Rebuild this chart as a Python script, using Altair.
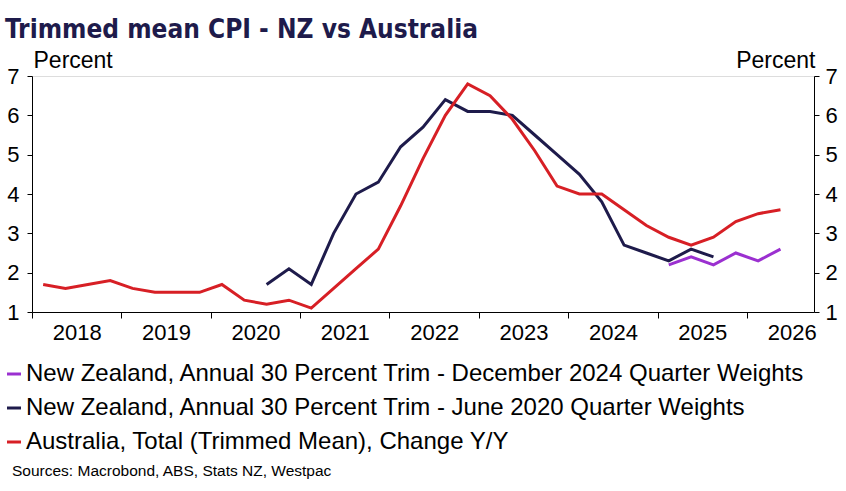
import altair as alt
import pandas as pd

# ---- data ----
series_names = [
    "New Zealand, Annual 30 Percent Trim - December 2024 Quarter Weights",
    "New Zealand, Annual 30 Percent Trim - June 2020 Quarter Weights",
    "Australia, Total (Trimmed Mean), Change Y/Y",
]
series_colors = ["#9b30d0", "#1e1b4b", "#d71f25"]
series_widths = [3, 3, 4.5]

nz_new_start = "2025Q1"
nz_new_values = [2.2, 2.4, 2.2, 2.5, 2.3, 2.6]

nz_old_start = "2020Q3"
nz_old_values = [1.7, 2.1,
                 1.7, 3.0, 4.0, 4.3,
                 5.2, 5.7, 6.4, 6.1,
                 6.1, 6.0, 5.5, 5.0,
                 4.5, 3.8, 2.7, 2.5,
                 2.3, 2.6, 2.4]

au_start = "2018Q1"
au_values = [1.7, 1.6, 1.7, 1.8,
             1.6, 1.5, 1.5, 1.5,
             1.7, 1.3, 1.2, 1.3,
             1.1, 1.6, 2.1, 2.6,
             3.7, 4.9, 6.0, 6.8,
             6.5, 5.9, 5.1, 4.2,
             4.0, 4.0, 3.6, 3.2,
             2.9, 2.7, 2.9, 3.3,
             3.5, 3.6]

year_ticks = [2018, 2019, 2020, 2021, 2022, 2023, 2024, 2025, 2026]
y_ticks = [1, 2, 3, 4, 5, 6, 7]
x_domain = [2018, 2026.75]
y_domain = [1, 7]

title_text = "Trimmed mean CPI - NZ vs Australia"
source_text = "Sources: Macrobond, ABS, Stats NZ, Westpac"


def quarter_positions(start, n):
    y, q = int(start[:4]), int(start[5])
    out = []
    for _ in range(n):
        out.append(y + (q - 0.5) / 4.0)
        q += 1
        if q > 4:
            q = 1
            y += 1
    return out


rows = []
for name, start, vals in [
    (series_names[0], nz_new_start, nz_new_values),
    (series_names[1], nz_old_start, nz_old_values),
    (series_names[2], au_start, au_values),
]:
    for t, v in zip(quarter_positions(start, len(vals)), vals):
        rows.append({"series": name, "t": t, "v": v})
df = pd.DataFrame(rows)

W, H = 782, 236
FONT = "Liberation Sans, Arial, sans-serif"

x_scale = alt.Scale(domain=x_domain, nice=False, zero=False)
x_enc = alt.X(
    "t:Q",
    scale=x_scale,
    axis=alt.Axis(
        values=year_ticks, format="d", title=None, grid=False,
        labelOffset=W / (x_domain[1] - x_domain[0]) / 2,
        labelOverlap=False, labelBound=False, labelFlush=False,
        tickSize=6, labelPadding=4, labelFontSize=22, labelFont=FONT,
        labelColor="black", domainColor="black", tickColor="black",
    ),
)

y_scale = alt.Scale(domain=y_domain, nice=False, zero=False)

lines = alt.Chart(df).mark_line(strokeJoin="miter").encode(
    x=x_enc,
    y=alt.Y(
        "v:Q", scale=y_scale,
        axis=alt.Axis(
            orient="left", values=y_ticks, grid=False, title="Percent",
            titleAngle=0, titleX=1, titleY=-9, titleAlign="left",
            titleBaseline="alphabetic", titleFontWeight="normal",
            titleFontSize=23, titleFont=FONT, titleColor="black",
            tickSize=5, labelPadding=8, labelFontSize=22, labelFont=FONT,
            labelColor="black", domainColor="black", tickColor="black",
        ),
    ),
    color=alt.Color(
        "series:N",
        scale=alt.Scale(domain=series_names, range=series_colors),
        sort=series_names,
        legend=alt.Legend(
            title=None, orient="none", legendX=-30, legendY=286,
            direction="vertical", symbolType="stroke", symbolSize=196,
            symbolStrokeWidth=4, labelFontSize=24, labelFont=FONT,
            labelColor="black", labelOffset=0, rowPadding=10, padding=0,
            labelLimit=900,
        ),
    ),
    strokeWidth=alt.StrokeWidth(
        "series:N",
        scale=alt.Scale(domain=series_names, range=series_widths),
        legend=None,
    ),
)

right_axis = alt.Chart(df).mark_point(opacity=0).encode(
    x=x_enc,
    y=alt.Y(
        "v:Q", scale=y_scale,
        axis=alt.Axis(
            orient="right", values=y_ticks, grid=False, title="Percent",
            titleAngle=0, titleX=1, titleY=-9, titleAlign="right",
            titleBaseline="alphabetic", titleFontWeight="normal",
            titleFontSize=23, titleFont=FONT, titleColor="black",
            tickSize=5, labelPadding=6, labelFontSize=22, labelFont=FONT,
            labelColor="black", domainColor="black", tickColor="black",
        ),
    ),
)

source = alt.Chart(pd.DataFrame({"s": [source_text]})).mark_text(
    align="left", baseline="alphabetic", fontSize=15.5, font=FONT, color="black"
).encode(x=alt.value(-20), y=alt.value(400), text="s:N")

chart = (
    alt.layer(lines, right_axis, source)
    .resolve_axis(y="independent")
    .properties(
        width=W, height=H,
        padding={"left": 32, "top": 76, "right": 32, "bottom": 179},
        autosize=alt.AutoSizeParams(type="none"),
        title=alt.TitleParams(
            title_text, anchor="start", frame="group", dx=-27, offset=6,
            fontSize=26, font="DejaVu Sans Condensed, sans-serif",
            fontWeight="bold", color="#1e1b4b",
        ),
    )
    .configure_view(stroke=None)
    .configure(background="white")
)

chart.save("out.html", embed_options={"renderer": "svg", "actions": False})
